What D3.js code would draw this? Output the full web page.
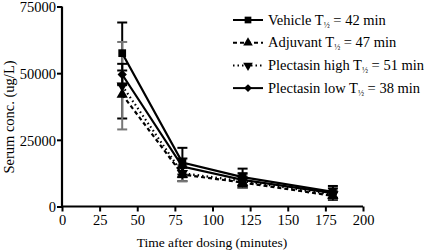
<!DOCTYPE html>
<html>
<head>
<meta charset="utf-8">
<script src="https://cdn.jsdelivr.net/npm/d3@7"></script>
<style>
  body { margin: 0; background: #fff; }
</style>
</head>
<body>
<svg id="chart" width="425" height="252" font-family="'Liberation Serif', 'Times New Roman', serif"></svg>
<script>
// time points (minutes)
const times = [40, 80, 120, 180];

// series values (ug/L) and error (SD)
const vehicle = [57500, 16500, 11000, 5500];
const vehicleErr = [11500, 5500, 3200, 2200];
const adjuvant = [42000, 12000, 9000, 4000];
const adjuvantErr = [9000, 2500, 2000, 1500];
const plectHigh = [45300, 12500, 9500, 4500];
const plectHighErr = [16400, 3000, 2500, 1500];
const plectLow = [49500, 15000, 10000, 5000];
const plectLowErr = [4000, 3000, 2500, 1800];

const seriesNames = ["Vehicle", "Adjuvant", "Plectasin high", "Plectasin low"];
const halfLives = [42, 47, 51, 38];

const xTicks = [0, 25, 50, 75, 100, 125, 150, 175, 200];
const yTicks = [0, 25000, 50000, 75000];

const FONT = "Liberation Serif";

const series = [
  { name: seriesNames[0], t: halfLives[0], vals: vehicle, err: vehicleErr, dash: null, sym: d3.symbolSquare, errColor: "#000" },
  { name: seriesNames[1], t: halfLives[1], vals: adjuvant, err: adjuvantErr, dash: "4,3", sym: d3.symbolTriangle, errColor: "#000" },
  { name: seriesNames[2], t: halfLives[2], vals: plectHigh, err: plectHighErr, dash: "1.5,3", sym: d3.symbolTriangle, flip: true, errColor: "#777" },
  { name: seriesNames[3], t: halfLives[3], vals: plectLow, err: plectLowErr, dash: null, sym: d3.symbolDiamond2, errColor: "#000" }
];

const svg = d3.select("#chart");
const x = d3.scaleLinear().domain([0, 200]).range([62, 363]);
const y = d3.scaleLinear().domain([0, 75000]).range([206.5, 6.5]);

// axes
const xAxis = svg.append("g")
  .attr("transform", `translate(0,${y(0)})`)
  .call(d3.axisBottom(x).tickValues(xTicks).tickSize(5).tickPadding(3).tickFormat(d3.format("d")));
const yAxis = svg.append("g")
  .attr("transform", `translate(${x(0)},0)`)
  .call(d3.axisLeft(y).tickValues(yTicks).tickSize(5).tickPadding(1).tickFormat(d3.format("d")));
[xAxis, yAxis].forEach(g => {
  g.attr("font-family", FONT);
  g.select(".domain").attr("stroke-width", 2.2).attr("stroke", "#000");
  g.selectAll(".tick line").attr("stroke-width", 2).attr("stroke", "#000");
  g.selectAll(".tick text").attr("font-size", 14.5).attr("fill", "#000")
    .attr("font-family", FONT);
});
xAxis.select(".domain").attr("d", `M${x(0)},0H${x(200)}`);
yAxis.select(".domain").attr("d", `M0,${y(0)}V${y(75000)}`);
yAxis.selectAll(".tick text").attr("dy", "0.36em");

// axis titles
svg.append("text")
  .attr("x", 212).attr("y", 247)
  .attr("text-anchor", "middle").attr("font-size", 13.5).attr("font-family", FONT)
  .text("Time after dosing (minutes)");
svg.append("text")
  .attr("transform", "translate(14,117) rotate(-90)")
  .attr("text-anchor", "middle").attr("font-size", 14.5).attr("font-family", FONT)
  .text("Serum conc. (ug/L)");

const line = d3.line().x(d => x(d[0])).y(d => y(d[1]));

// error bars (drawn first)
series.forEach(s => {
  const g = svg.append("g");
  times.forEach((t, i) => {
    const hi = s.vals[i] + s.err[i], lo = s.vals[i] - s.err[i];
    g.append("line").attr("x1", x(t)).attr("x2", x(t)).attr("y1", y(hi)).attr("y2", y(lo))
      .attr("stroke", s.errColor).attr("stroke-width", 2);
    [hi, lo].forEach(v => {
      g.append("line").attr("x1", x(t) - 5).attr("x2", x(t) + 5).attr("y1", y(v)).attr("y2", y(v))
        .attr("stroke", s.errColor).attr("stroke-width", 2);
    });
  });
});

// lines and markers
series.forEach(s => {
  const pts = times.map((t, i) => [t, s.vals[i]]);
  svg.append("path")
    .attr("d", line(pts))
    .attr("fill", "none").attr("stroke", "#000").attr("stroke-width", 2.2)
    .attr("stroke-dasharray", s.dash);
  svg.append("g").selectAll("path").data(pts).join("path")
    .attr("transform", d => `translate(${x(d[0])},${y(d[1])})` + (s.flip ? " rotate(180)" : ""))
    .attr("d", d3.symbol().type(s.sym).size(s.sym === d3.symbolSquare ? 60 : 55))
    .attr("fill", "#000");
});

// legend
const leg = svg.append("g");
series.forEach((s, i) => {
  const ly = 20 + i * 22.7;
  leg.append("line").attr("x1", 233).attr("x2", 263).attr("y1", ly).attr("y2", ly)
    .attr("stroke", "#000").attr("stroke-width", 2).attr("stroke-dasharray", s.dash);
  leg.append("path")
    .attr("transform", `translate(248,${ly})` + (s.flip ? " rotate(180)" : ""))
    .attr("d", d3.symbol().type(s.sym).size(s.sym === d3.symbolSquare ? 45 : 40))
    .attr("fill", "#000");
  const tx = leg.append("text").attr("x", 268).attr("y", ly + 4.5)
    .attr("font-size", 14.5).attr("font-family", FONT);
  tx.append("tspan").text(`${s.name} T`);
  tx.append("tspan").attr("font-size", 8).attr("dy", 3).text("\u00BD");
  tx.append("tspan").attr("dy", -3).text(` = ${s.t} min`);
});
</script>
</body>
</html>
